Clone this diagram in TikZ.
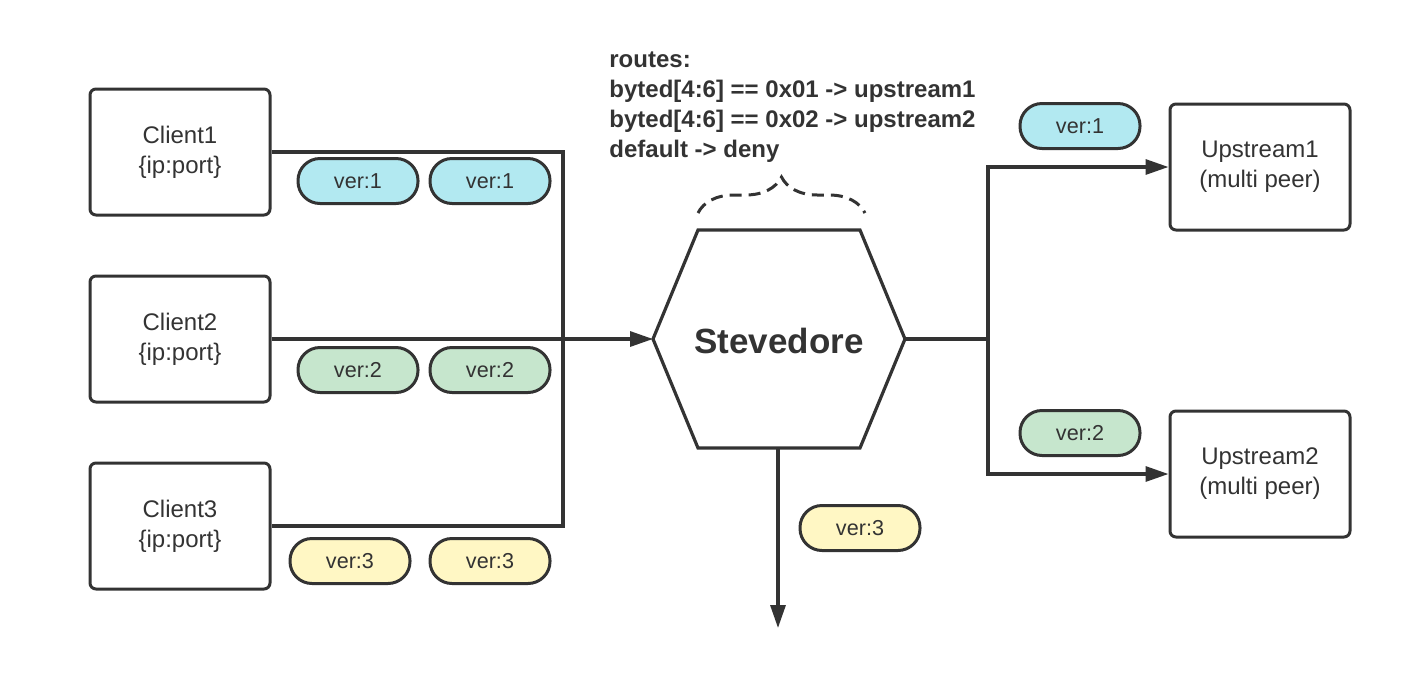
\documentclass[tikz,border=0pt]{standalone}
\usepackage{fontspec}
\setmainfont{Liberation Sans}
\usetikzlibrary{positioning, arrows.meta, decorations.pathreplacing}
\definecolor{ink}{HTML}{333333}
\definecolor{vcyan}{HTML}{B2E9F1}
\definecolor{vgreen}{HTML}{C6E6CD}
\definecolor{vyellow}{HTML}{FFF7C4}

\begin{document}
\begin{tikzpicture}[x=0.5pt,y=-0.5pt,
  box/.style={draw=ink,line width=1.5pt,rounded corners=3pt,minimum width=90pt,minimum height=63pt,align=center,font=\fontsize{12}{15}\selectfont,text=ink},
  pill/.style={draw=ink,line width=1.5pt,rounded corners=11pt,minimum width=60pt,minimum height=22.5pt,font=\fontsize{10.8}{12}\selectfont,text=ink,inner sep=0pt},
  wire/.style={draw=ink,line width=1.6pt},
  tip/.style={-{Triangle[length=11.5pt,width=7.5pt]}}]
\useasboundingbox (0,0) rectangle (1420,676);

\node[box](c1) at (180,152) {Client1\\\{ip:port\}};
\node[box](c2) at (180,339) {Client2\\\{ip:port\}};
\node[box](c3) at (180,526) {Client3\\\{ip:port\}};
\node[box](u1) at (1260,167) {Upstream1\\(multi peer)};
\node[box](u2) at (1260,474) {Upstream2\\(multi peer)};

% hexagon
\coordinate (hexW) at (653,339);
\coordinate (hexE) at (905,339);
\coordinate (hexS) at (778,448);
\draw[wire] (hexW) -- (698,230) -- (860,230) -- (hexE) -- (860,448) -- (698,448) -- cycle;
\node[text=ink,font=\fontsize{17.5}{20}\selectfont\bfseries](stev) at (779,341) {Stevedore};

\node[anchor=west,inner sep=0pt,align=left,text=ink,font=\fontsize{12}{15}\selectfont\bfseries](routes) at (609,107)
  {routes:\\byted[4:6] == 0x01 -> upstream1\\byted[4:6] == 0x02 -> upstream2\\default -> deny};
\draw[ink,line width=1.5pt,dash pattern=on 6pt off 3.5pt,decorate,decoration={brace,amplitude=18pt}] (698,213) -- (865,213);

\node[pill,fill=vcyan](p1a) at (358,181) {ver:1};
\node[pill,fill=vcyan](p1b) at (490,181) {ver:1};
\node[pill,fill=vgreen](p2a) at (358,370) {ver:2};
\node[pill,fill=vgreen](p2b) at (490,370) {ver:2};
\node[pill,fill=vyellow](p3a) at (350,561) {ver:3};
\node[pill,fill=vyellow](p3b) at (490,561) {ver:3};
\node[pill,fill=vcyan](q1) at (1080,126) {ver:1};
\node[pill,fill=vgreen](q2) at (1080,433) {ver:2};
\node[pill,fill=vyellow](q3) at (860,528) {ver:3};

\coordinate (busL) at (563,339);
\coordinate (busR) at (988,339);
\coordinate (drop) at (778,628);

\draw[wire] (c1.east) -| (busL) |- (c3.east);
\draw[wire,tip] (c2.east) -- (hexW);
\draw[wire] (hexE) -- (busR);
\draw[wire,tip] (busR) |- (u1.west);
\draw[wire,tip] (busR) |- (u2.west);
\draw[wire,tip] (hexS) -- (drop);
\end{tikzpicture}
\end{document}
